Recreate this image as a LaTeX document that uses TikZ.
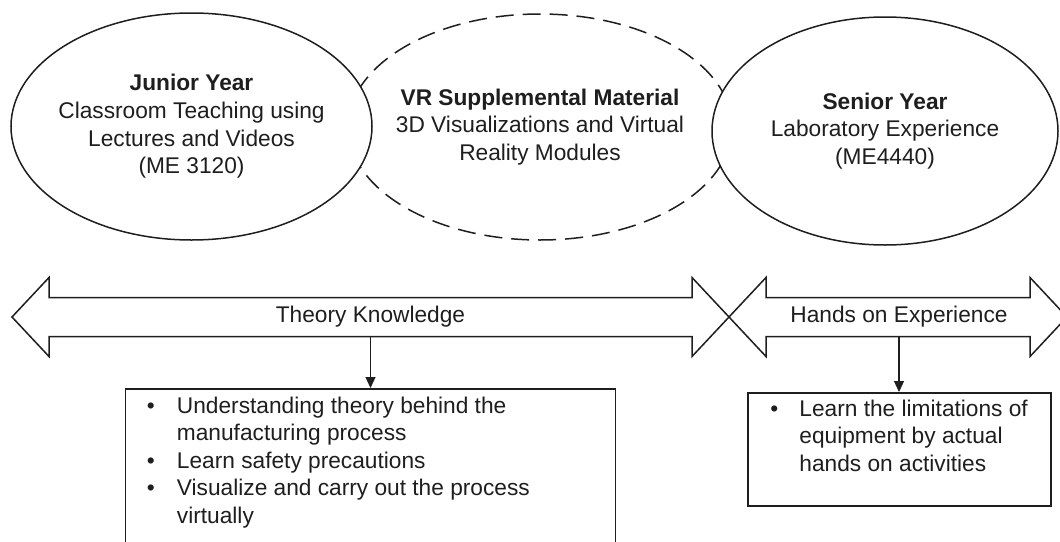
\documentclass[tikz,border=0pt]{standalone}
\usepackage{fontspec}
\setmainfont{Liberation Sans}
\usepackage{array}
\usepackage{tikz}
\usetikzlibrary{arrows.meta,positioning,shapes.geometric}
\definecolor{inkgray}{HTML}{1E1E1E}
\tikzset{
  yearnode/.style={draw=inkgray,ellipse,line width=1.5pt,fill=white,inner sep=0pt},
  vrnode/.style={draw=inkgray,ellipse,line width=1.5pt,dash pattern=on 18pt off 9pt,inner sep=0pt},
  yeartext/.style={font=\fontsize{22.7}{27.7}\selectfont,text=inkgray,align=center},
  bandline/.style={draw=inkgray,line width=1.5pt,line join=miter},
  bandtext/.style={font=\fontsize{22.7}{27.7}\selectfont,text=inkgray,minimum height=39pt,inner sep=0pt},
  listbox/.style={draw=inkgray,line width=1.5pt,anchor=north,inner sep=0pt},
  listtext/.style={font=\fontsize{22.7}{27.5}\selectfont,text=inkgray,inner sep=0pt,anchor=north west},
  listlink/.style={-{Triangle[length=11pt,width=10pt]},draw=inkgray,line width=1.2pt}
}
\begin{document}
\begin{tikzpicture}[x=1pt,y=-1pt]
\useasboundingbox (0,0) rectangle (1060,541);
% years and the VR material between them
\node[vrnode,minimum width=384pt,minimum height=226pt] (vr) at (540,127) {};
\node[yearnode,minimum width=361pt,minimum height=227pt] (junior) at (191.5,126.5) {};
\node[yearnode,minimum width=346pt,minimum height=228pt] (senior) at (885,131) {};
\node[yeartext] (juniortext) at (junior) {\textbf{Junior Year}\\Classroom Teaching using\\Lectures and Videos\\(ME 3120)};
\node[yeartext] (vrtext) at (vr) {\textbf{VR Supplemental Material}\\3D Visualizations and Virtual\\Reality Modules};
\node[yeartext] (seniortext) at (senior) {\textbf{Senior Year}\\Laboratory Experience\\(ME4440)};
% the two bands
\draw[bandline] (12,317) -- (49,277.5) -- (49,297.5) -- (692,297.5) -- (692,277.5) -- (729,317) -- (692,356.5) -- (692,336.5) -- (49,336.5) -- (49,356.5) -- cycle;
\draw[bandline] (729,317) -- (766,277.5) -- (766,297.5) -- (1030,297.5) -- (1030,277.5) -- (1067,317) -- (1030,356.5) -- (1030,336.5) -- (766,336.5) -- (766,356.5) -- cycle;
\node[bandtext] (theory) at (370.5,317) {Theory Knowledge};
\node[bandtext] (hands) at (899,317) {Hands on Experience};
% what each band gives
\node[listbox,minimum width=490pt,minimum height=172pt] (lbox) at (370.5,388) {};
\node[listbox,minimum width=303pt,minimum height=113pt] (rbox) at (899.5,392) {};
\node[listtext,below right=5.6pt and 22pt of lbox.north west] (llist) {%
\begin{tabular}{@{}p{30pt}@{}l@{}}
\textbullet & Understanding theory behind the\\
 & manufacturing process\\
\textbullet & Learn safety precautions\\
\textbullet & Visualize and carry out the process\\
 & virtually
\end{tabular}};
\node[listtext,below right=4.6pt and 23pt of rbox.north west] (rlist) {%
\begin{tabular}{@{}p{29pt}@{}l@{}}
\textbullet & Learn the limitations of\\
 & equipment by actual\\
 & hands on activities
\end{tabular}};
\draw[listlink] (theory.south) -- (theory.south |- lbox.north);
\draw[listlink] (hands.south) -- (hands.south |- rbox.north);
\end{tikzpicture}
\end{document}
